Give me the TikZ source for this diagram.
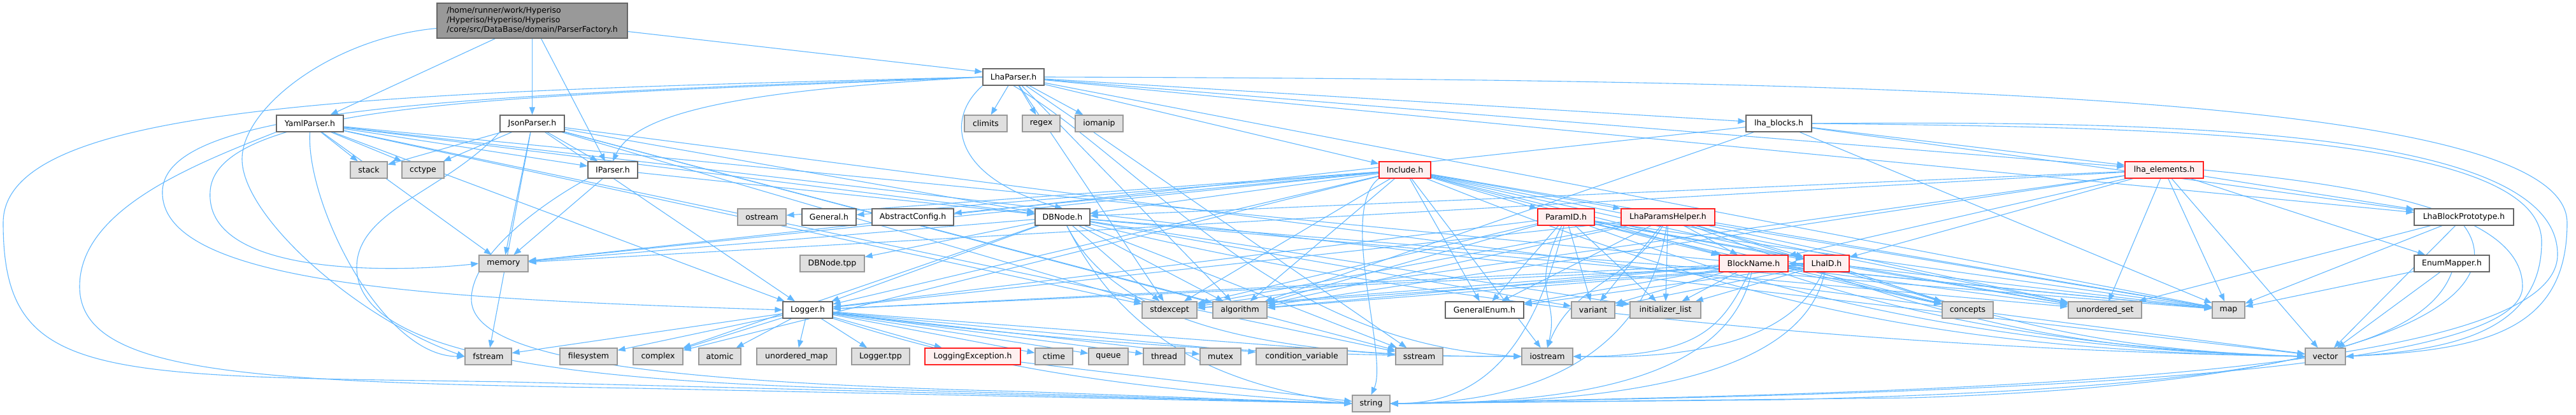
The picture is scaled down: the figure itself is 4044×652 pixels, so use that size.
\documentclass[tikz,border=0pt]{standalone}
\usepackage{fontspec}
\setmainfont{DejaVu Sans}
\usetikzlibrary{arrows.meta}
\definecolor{edgec}{HTML}{63B8FF}
\definecolor{sysfill}{HTML}{E0E0E0}
\definecolor{sysdraw}{HTML}{999999}
\definecolor{filedraw}{HTML}{666666}
\definecolor{trfill}{HTML}{FFF0F0}
\definecolor{trdraw}{HTML}{FF2020}
\definecolor{rootfill}{HTML}{999999}
\pgfdeclarelayer{edgelayer}
\pgfsetlayers{edgelayer,main}
\begin{document}
\begin{tikzpicture}[x=1pt,y=-1pt,
 box/.style={rectangle, inner sep=0pt, minimum height=26pt, line width=1.2pt, font=\fontsize{12.5}{15}\selectfont},
 sys/.style={box, fill=sysfill, draw=sysdraw},
 file/.style={box, fill=white, draw=filedraw},
 trunc/.style={box, fill=trfill, draw=trdraw},
 rootbox/.style={box, fill=rootfill, draw=filedraw, minimum height=55pt, align=left},
 dep/.style={draw=edgec, line width=1.1pt, -{Triangle[length=12pt,width=9pt]}}]
\useasboundingbox (0,0) rectangle (4044,652);
% nodes
\node[rootbox, minimum width=299pt] (root) at (835.5,32.5) {/home/runner/work/Hyperiso\\/Hyperiso/Hyperiso/Hyperiso\\/core/src/DataBase/domain/ParserFactory.h};
\node[file, minimum width=96pt] (lhap) at (1591,121) {LhaParser.h};
\node[file, minimum width=105pt] (yaml) at (486.5,194) {YamlParser.h};
\node[file, minimum width=101pt] (json) at (835.5,194) {JsonParser.h};
\node[sys, minimum width=67pt] (climits) at (1547.5,194) {climits};
\node[sys, minimum width=59pt] (regex) at (1634.5,194) {regex};
\node[sys, minimum width=75pt] (iomanip) at (1725.5,194) {iomanip};
\node[file, minimum width=103pt] (lhab) at (2792.5,194) {lha\_blocks.h};
\node[sys, minimum width=58pt] (stack) at (579,267) {stack};
\node[sys, minimum width=66pt] (cctype) at (664,267) {cctype};
\node[file, minimum width=78pt] (ipar) at (962,267) {IParser.h};
\node[trunc, minimum width=81pt] (incl) at (2205.5,267) {Include.h};
\node[trunc, minimum width=123pt] (lhae) at (3397.5,267) {lha\_elements.h};
\node[sys, minimum width=76pt] (ostream) at (1196,341) {ostream};
\node[file, minimum width=85pt] (general) at (1301.5,341) {General.h};
\node[file, minimum width=128pt] (absconf) at (1433,341) {AbstractConfig.h};
\node[file, minimum width=86pt] (dbnode) at (1668,341) {DBNode.h};
\node[trunc, minimum width=89pt] (paramid) at (2458.5,341) {ParamID.h};
\node[trunc, minimum width=147pt] (lhaph) at (2618.5,341) {LhaParamsHelper.h};
\node[file, minimum width=156pt] (lhabp) at (3868,341) {LhaBlockPrototype.h};
\node[sys, minimum width=77pt] (memory) at (790.5,414) {memory};
\node[sys, minimum width=101pt] (dbtpp) at (1306.5,414) {DBNode.tpp};
\node[trunc, minimum width=108pt] (blockname) at (2753,414) {BlockName.h};
\node[trunc, minimum width=71pt] (lhaid) at (2867.5,414) {LhaID.h};
\node[file, minimum width=118pt] (enummap) at (3849,414) {EnumMapper.h};
\node[file, minimum width=78pt] (logger) at (1268,487) {Logger.h};
\node[sys, minimum width=86pt] (stdexc) at (1836,487) {stdexcept};
\node[sys, minimum width=85pt] (algo) at (1946.5,487) {algorithm};
\node[file, minimum width=123pt] (genenum) at (2330.5,487) {GeneralEnum.h};
\node[sys, minimum width=68pt] (variant) at (2501,487) {variant};
\node[sys, minimum width=111pt] (initl) at (2614.5,487) {initializer\_list};
\node[sys, minimum width=80pt] (concepts) at (3089,487) {concepts};
\node[sys, minimum width=115pt] (uset) at (3304.5,487) {unordered\_set};
\node[sys, minimum width=51pt] (map) at (3498.5,487) {map};
\node[sys, minimum width=73pt] (fstream) at (766.5,560) {fstream};
\node[sys, minimum width=90pt] (filesys) at (924,560) {filesystem};
\node[sys, minimum width=78pt] (complex) at (1033,560) {complex};
\node[sys, minimum width=66pt] (atomic) at (1130,560) {atomic};
\node[sys, minimum width=125pt] (umap) at (1250.5,560) {unordered\_map};
\node[sys, minimum width=91pt] (ltpp) at (1382.5,560) {Logger.tpp};
\node[trunc, minimum width=150pt] (logex) at (1527,560) {LoggingException.h};
\node[sys, minimum width=59pt] (ctime) at (1654.5,560) {ctime};
\node[sys, minimum width=62pt] (queue) at (1740,560) {queue};
\node[sys, minimum width=65pt] (thread) at (1827.5,560) {thread};
\node[sys, minimum width=64pt] (mutex) at (1916,560) {mutex};
\node[sys, minimum width=143pt] (condvar) at (2043.5,560) {condition\_variable};
\node[sys, minimum width=74pt] (sstream) at (2228,560) {sstream};
\node[sys, minimum width=80pt] (iostream) at (2429,560) {iostream};
\node[sys, minimum width=63pt] (vector) at (3650.5,560) {vector};
\node[sys, minimum width=59pt] (string) at (2152.5,634) {string};
% edges
\begin{pgfonlayer}{edgelayer}
% root
\draw[dep] ([xshift=-58pt]root.south) -- ([xshift=-21pt]yaml.north east);
\draw[dep] (root) -- (json);
\draw[dep] ([xshift=14pt]root.south) -- ([xshift=-12pt]ipar.north);
\draw[dep] ([yshift=-17pt]root.east) -- ([yshift=8pt]lhap.west);
\draw[dep] ([yshift=-12pt]root.west) .. controls (520,60) and (380,170) .. (380,250) .. controls (380,340) and (560,500) .. (fstream.west);
% YamlParser
\foreach \t in {stack,cctype,ipar,dbnode,memory,logger,sstream,stdexc,map,vector}
  \draw[dep] (yaml) -- (\t);
\draw[dep] (yaml.south west) .. controls (300,260) and (125,330) .. (125,450) .. controls (125,590) and (400,600) .. (1000,610) -- (string.west);
\draw[dep] (yaml.south) .. controls (480,320) and (600,560) .. (fstream.west);
% JsonParser
\foreach \t in {stack,cctype,ipar,dbnode,memory,logger,sstream,stdexc,algo,vector,fstream}
  \draw[dep] (json) -- (\t);
\draw[dep] (json.south west) .. controls (700,300) and (560,330) .. (560,420) .. controls (560,560) and (900,600) .. (1400,612) -- (string.west);
% IParser
\foreach \t in {dbnode,memory}
  \draw[dep] (ipar) -- (\t);
\draw[dep] (ipar.south west) .. controls (850,320) and (740,400) .. (740,470) .. controls (740,560) and (1000,600) .. (1600,615) -- (string.west);
% LhaParser
\foreach \t in {climits,regex,iomanip,incl,lhab,lhae,lhabp,sstream,map,algo,stdexc}
  \draw[dep] (lhap) -- (\t);
\draw[dep] (lhap.south west) .. controls (1480,190) and (1500,280) .. (dbnode.north);
\draw[dep] (lhap.west) .. controls (1200,140) and (1000,170) .. (ipar.north);
\draw[dep] (lhap.west) .. controls (900,150) and (340,150) .. (330,300) .. controls (320,430) and (600,430) .. (memory.west);
\draw[dep] (lhap.west) .. controls (700,150) and (260,170) .. (255,300) .. controls (250,450) and (700,470) .. (logger.west);
\draw[dep] (lhap.west) .. controls (600,145) and (5,160) .. (5,350) .. controls (5,600) and (150,590) .. (800,600) -- (string.west);
\draw[dep] (lhap.east) .. controls (3000,125) and (4030,150) .. (4030,350) .. controls (4030,520) and (3900,550) .. (vector.east);
\draw[dep] (lhap.south) .. controls (1800,260) and (2000,540) .. (iostream.west);
% lha_blocks
\foreach \t in {lhae,lhabp,memory,map,algo}
  \draw[dep] (lhab) -- (\t);
\draw[dep] (lhab.east) .. controls (3400,200) and (3990,210) .. (3990,380) .. controls (3990,520) and (3850,550) .. (vector.east);
\draw[dep] (lhab.east) .. controls (3400,190) and (4015,200) .. (4015,400) .. controls (4015,600) and (3000,618) .. (string.east);
% lha_elements
\foreach \t in {lhabp,enummap,blockname,lhaid,dbnode,map,vector,memory,uset,algo,stdexc}
  \draw[dep] (lhae) -- (\t);
\draw[dep] (lhae.east) .. controls (3700,290) and (3960,330) .. (3960,450) .. controls (3960,600) and (3000,620) .. (string.east);
% LhaBlockPrototype
\foreach \t in {map,vector,uset}
  \draw[dep] (lhabp) -- (\t);
\draw[dep] (lhabp.south) .. controls (3940,450) and (3800,600) .. (3000,625) -- (string.east);
% EnumMapper
\foreach \t in {vector,map}
  \draw[dep] (enummap) -- (\t);
\draw[dep] (enummap.south) .. controls (3800,560) and (3500,610) .. (2800,628) -- (string.east);
% Include
\foreach \t in {paramid,lhaph,genenum,general,absconf,ostream,dbnode,logger,blockname,lhaid,memory,complex,map,iostream,uset,concepts,algo,stdexc}
  \draw[dep] (incl) -- (\t);
\draw[dep] (incl.south west) .. controls (2100,330) and (2180,560) .. (string.north);
\draw[dep] (incl) .. controls +(500,200) and +(-600,-10) .. (vector.west);
% DBNode
\foreach \t in {dbtpp,memory,logger,stdexc,algo,map,variant,sstream,initl,complex,uset}
  \draw[dep] (dbnode) -- (\t);
\draw[dep] (dbnode) .. controls +(100,200) and +(-300,0) .. (iostream.west);
\draw[dep] (dbnode) .. controls +(100,200) and +(-200,-30) .. (string.west);
\draw[dep] (dbnode) .. controls +(600,150) and +(-600,-10) .. (vector.west);
% Logger
\foreach \t in {fstream,filesys,complex,atomic,umap,ltpp,logex,ctime,queue,thread,mutex,condvar,sstream}
  \draw[dep] (logger) -- (\t);
\draw[dep] (logger) .. controls +(400,50) and +(-400,0) .. (iostream.west);
\draw[dep] (logger) .. controls +(300,100) and +(-300,-20) .. (string.west);
\draw[dep] (logex) -- (string);
% ParamID
\foreach \t in {genenum,variant,initl,blockname,lhaid,map,logger,stdexc,algo,concepts,uset}
  \draw[dep] (paramid) -- (\t);
\draw[dep] (paramid) .. controls +(-60,120) and +(20,-80) .. (iostream.north);
\draw[dep] (paramid) .. controls +(-50,200) and +(150,0) .. (string.east);
\draw[dep] (paramid) .. controls +(400,150) and +(-400,-10) .. (vector.west);
% LhaParamsHelper
\foreach \t in {blockname,lhaid,genenum,variant,initl,map,uset,algo,stdexc,logger,concepts}
  \draw[dep] (lhaph) -- (\t);
\draw[dep] (lhaph) .. controls +(-60,100) and +(40,-100) .. (iostream.north);
\draw[dep] (lhaph) .. controls +(-30,200) and +(250,0) .. (string.east);
\draw[dep] (lhaph) .. controls +(400,150) and +(-400,-10) .. (vector.west);
% BlockName
\foreach \t in {genenum,variant,initl,map,uset,concepts,algo,stdexc,logger}
  \draw[dep] (blockname) -- (\t);
\draw[dep] (blockname) .. controls +(-50,100) and +(200,0) .. (iostream.east);
\draw[dep] (blockname) .. controls +(-40,180) and +(300,0) .. (string.east);
\draw[dep] (blockname) .. controls +(300,100) and +(-300,-10) .. (vector.west);
% LhaID
\foreach \t in {blockname,genenum,variant,initl,map,uset,concepts,algo,stdexc,logger}
  \draw[dep] (lhaid) -- (\t);
\draw[dep] (lhaid) .. controls +(-50,110) and +(220,5) .. (iostream.east);
\draw[dep] (lhaid) .. controls +(-40,190) and +(320,0) .. (string.east);
\draw[dep] (lhaid) .. controls +(300,100) and +(-300,-10) .. (vector.west);
\end{pgfonlayer}
\end{tikzpicture}
\end{document}
